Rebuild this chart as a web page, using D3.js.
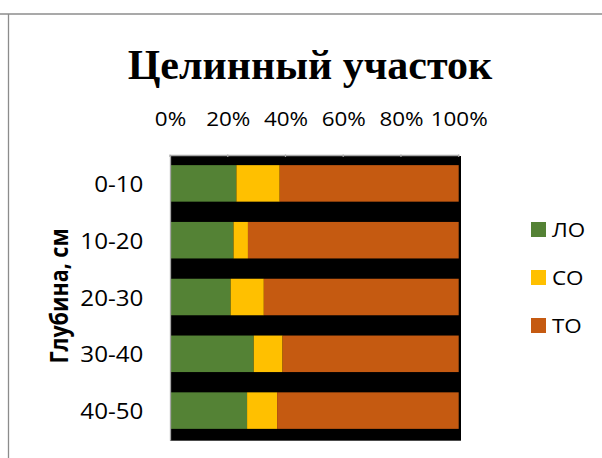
<!DOCTYPE html>
<html>
<head>
<meta charset="utf-8">
<script src="https://cdn.jsdelivr.net/npm/d3@7"></script>
<style>
  html, body { margin: 0; padding: 0; background: #fff; }
  svg { display: block; }
</style>
</head>
<body>
<svg id="chart" width="602" height="458"></svg>
<script>
// Depth layers (cm) and share of each fraction, %
const depths = ["0-10", "10-20", "20-30", "30-40", "40-50"];
const lo = [23, 22, 21, 29, 26.7];
const so = [15, 5, 11.5, 10, 10.4];
const to = [62, 73, 67.5, 61, 62.9];
const seriesNames = ["ЛО", "СО", "ТО"];
const seriesColors = ["#548235", "#FFC000", "#C55A11"];
const tickValues = [0, 0.2, 0.4, 0.6, 0.8, 1];

const FONT = "'Open Sans', sans-serif";
const SX = 1.15; // horizontal widening of label glyphs

const svg = d3.select("#chart");

// chart frame
svg.append("line").attr("x1", 0).attr("x2", 602).attr("y1", 14).attr("y2", 14)
  .attr("stroke", "#8c8c8c").attr("stroke-width", 1.3);
svg.append("line").attr("x1", 8.5).attr("x2", 8.5).attr("y1", 14).attr("y2", 458)
  .attr("stroke", "#8c8c8c").attr("stroke-width", 1.3);

// title
svg.append("text")
  .attr("x", 310).attr("y", 79)
  .attr("text-anchor", "middle")
  .attr("font-family", "'Liberation Serif', 'Times New Roman', serif")
  .attr("font-weight", "bold")
  .attr("font-size", 42)
  .attr("fill", "#000")
  .text("Целинный участок");

const plot = { left: 170, right: 458.7, top: 155, bottom: 439 };

const x = d3.scaleLinear().domain([0, 1]).range([plot.left, plot.right]);
const y = d3.scaleBand().domain(depths)
  .range([plot.top, plot.bottom])
  .paddingInner(0.357).paddingOuter(0.1785);

// plot area background
svg.append("rect")
  .attr("x", plot.left).attr("y", 156)
  .attr("width", 461 - plot.left).attr("height", 440.7 - 156)
  .attr("fill", "#000");

// top axis with percent labels
const xAxis = d3.axisTop(x).tickValues(tickValues)
  .tickFormat(d3.format(".0%")).tickSize(0).tickPadding(0);
const gx = svg.append("g").attr("transform", `translate(0,${plot.top})`).call(xAxis);
gx.select(".domain").attr("stroke", "#a6a6a6").attr("stroke-width", 1.3);
gx.selectAll("text")
  .attr("x", 0).attr("y", 0)
  .attr("dy", "0.35em")
  .attr("transform", `translate(0,-36) scale(${SX},1)`)
  .attr("font-family", FONT)
  .attr("font-size", 19.5)
  .attr("fill", "#000");
// gridline stubs at the top edge
svg.append("g").selectAll("line").data(tickValues).join("line")
  .attr("x1", d => x(d)).attr("x2", d => x(d))
  .attr("y1", plot.top - 0.5).attr("y2", 157)
  .attr("stroke", "#a6a6a6").attr("stroke-width", 1.2);

// stacked bars
const rows = depths.map((d, i) => ({ depth: d, "ЛО": lo[i], "СО": so[i], "ТО": to[i] }));
const stack = d3.stack().keys(seriesNames).offset(d3.stackOffsetExpand);
const layers = stack(rows);

svg.append("g").selectAll("g").data(layers).join("g")
  .attr("fill", (d, i) => seriesColors[i])
  .selectAll("rect").data(d => d).join("rect")
  .attr("x", d => x(d[0]))
  .attr("y", d => y(d.data.depth))
  .attr("width", d => x(d[1]) - x(d[0]))
  .attr("height", y.bandwidth());

// left axis with depth labels
const yAxis = d3.axisLeft(y).tickSize(0).tickPadding(0);
const gy = svg.append("g").attr("transform", `translate(${plot.left},0)`).call(yAxis);
gy.select(".domain").attr("stroke", "#a6a6a6").attr("stroke-width", 1.3)
  .attr("d", `M0.5,${plot.top}V${440.7}`);
gy.selectAll("text")
  .attr("x", 0).attr("y", 0)
  .attr("dy", "0.35em")
  .attr("transform", `translate(-26.7,1.2) scale(${SX},1)`)
  .attr("font-family", FONT)
  .attr("font-size", 21)
  .attr("fill", "#000");

// y-axis title
svg.append("text")
  .attr("transform", `translate(68,296) scale(${SX},1) rotate(-90)`)
  .attr("text-anchor", "middle")
  .attr("font-family", FONT)
  .attr("font-weight", "bold")
  .attr("font-size", 21.5)
  .attr("fill", "#000")
  .text("Глубина, см");

// legend
const legend = svg.append("g").selectAll("g").data(seriesNames).join("g")
  .attr("transform", (d, i) => `translate(531,${222 + i * 48})`);
legend.append("rect").attr("width", 15).attr("height", 15)
  .attr("fill", (d, i) => seriesColors[i]);
legend.append("text")
  .attr("transform", `translate(21,8.3) scale(${SX},1)`)
  .attr("dy", "0.35em")
  .attr("font-family", FONT)
  .attr("font-size", 19.5)
  .attr("fill", "#000")
  .text(d => d);
</script>
</body>
</html>
